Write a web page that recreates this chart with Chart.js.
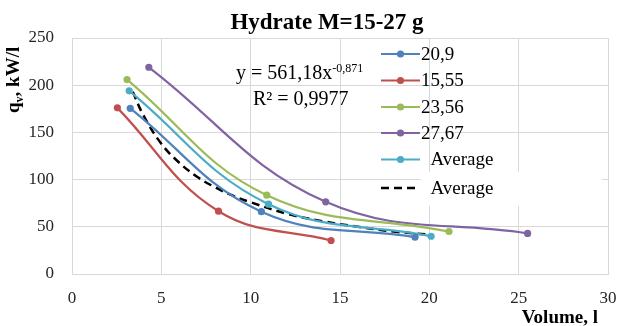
<!DOCTYPE html>
<html>
<head>
<meta charset="utf-8">
<script src="https://cdn.jsdelivr.net/npm/chart.js@4/dist/chart.umd.min.js"></script>
<style>
  html, body { margin: 0; padding: 0; background: #fff; }
  #wrap { width: 617px; height: 326px; }
</style>
</head>
<body>
<div id="wrap"><canvas id="chart" width="617" height="326"></canvas></div>
<script>
// --- Data: volume (l) vs specific power q_v (kW/l) per hydrate mass ---
const seriesNames = ['20,9', '15,55', '23,56', '27,67', '  Average'];
const trendName = '  Average';

const vol209 = [3.26, 10.6, 19.2];
const q209 = [175.5, 66, 39];
const vol1555 = [2.54, 8.2, 14.5];
const q1555 = [176, 66.5, 35.5];
const vol2356 = [3.08, 10.9, 21.1];
const q2356 = [206, 83.5, 45];
const vol2767 = [4.3, 14.2, 25.5];
const q2767 = [219, 76.5, 43];
const volAvg = [3.2, 11.0, 20.1];
const qAvg = [194, 74, 40];

// power trend line
const volTrend = [3.4, 4, 5, 6, 7, 8, 9, 10, 12, 14, 16, 18, 19.8];
const qTrend = [193, 168, 138, 118, 103, 92, 83, 76, 64, 56, 50, 45, 42];

const xTicks = [0, 5, 10, 15, 20, 25, 30];
const yTicks = [0, 50, 100, 150, 200, 250];

const colors = ['#4f81bd', '#c0504d', '#9bbb59', '#8064a2', '#4bacc6'];

const SERIF = "'Liberation Serif', 'Times New Roman', serif";

function pts(xs, ys) {
    return xs.map((x, i) => ({ x: x, y: ys[i] }));
}

const seriesData = [
    pts(vol209, q209),
    pts(vol1555, q1555),
    pts(vol2356, q2356),
    pts(vol2767, q2767),
    pts(volAvg, qAvg)
];

const datasets = seriesData.map((d, i) => ({
    label: seriesNames[i],
    data: d,
    borderColor: colors[i],
    backgroundColor: colors[i],
    borderWidth: 2.2,
    pointRadius: 3.6,
    pointBorderWidth: 0,
    pointBackgroundColor: colors[i],
    tension: 0.4
}));

datasets.push({
    label: trendName,
    data: pts(volTrend, qTrend),
    borderColor: '#000',
    borderWidth: 2.5,
    borderDash: [8, 5],
    pointRadius: 0,
    tension: 0.4
});

// --- Texts drawn on top: title, axis titles, equation, legend ---
const overlay = {
    id: 'overlay',
    afterDraw(chart) {
        const ctx = chart.ctx;
        ctx.save();
        ctx.fillStyle = '#000';
        ctx.textBaseline = 'alphabetic';

        // title
        ctx.font = 'bold 23px ' + SERIF;
        ctx.textAlign = 'center';
        ctx.fillText('Hydrate M=15-27 g', 327, 28.5);

        // x axis title
        ctx.font = 'bold 19px ' + SERIF;
        ctx.textAlign = 'right';
        ctx.fillText('Volume, l', 598, 323);

        // y axis title (rotated, with subscript v)
        ctx.save();
        ctx.translate(19, 113);
        ctx.rotate(-Math.PI / 2);
        ctx.textAlign = 'left';
        ctx.font = 'bold 19px ' + SERIF;
        ctx.fillText('q', 0, 0);
        let w = ctx.measureText('q').width;
        ctx.font = 'bold 12px ' + SERIF;
        ctx.fillText('v', w, 4);
        w += ctx.measureText('v').width;
        ctx.font = 'bold 19px ' + SERIF;
        ctx.fillText(', kW/l', w, 0);
        ctx.restore();

        // trend equation
        ctx.textAlign = 'left';
        ctx.font = '20px ' + SERIF;
        const eq = 'y = 561,18x';
        ctx.fillText(eq, 236, 79);
        const ew = ctx.measureText(eq).width;
        ctx.font = '12px ' + SERIF;
        ctx.fillText('-0,871', 236 + ew, 71.5);
        ctx.font = '20px ' + SERIF;
        ctx.fillText('R\u00b2 = 0,9977', 253, 105);

        // legend
        const rowY = [54, 80.5, 107, 133, 159.5, 188];
        ctx.fillStyle = '#fff';
        ctx.fillRect(421, 172, 181, 34);
        ctx.font = '19px ' + SERIF;
        ctx.textBaseline = 'middle';
        datasets.forEach((ds, i) => {
            const y = rowY[i];
            ctx.strokeStyle = ds.borderColor;
            ctx.lineWidth = ds.borderWidth;
            ctx.setLineDash(ds.borderDash || []);
            ctx.beginPath();
            ctx.moveTo(381, y);
            ctx.lineTo(420, y);
            ctx.stroke();
            if (ds.pointRadius > 0) {
                ctx.fillStyle = ds.borderColor;
                ctx.beginPath();
                ctx.arc(400.5, y, 3.6, 0, Math.PI * 2);
                ctx.fill();
            }
            ctx.fillStyle = '#000';
            ctx.fillText(ds.label, 421, y + 1);
        });
        ctx.restore();
    }
};

// keep the plot box fixed: no extra room for overhanging tick labels
function fixPadding(scale) {
    scale.paddingLeft = 0;
    scale.paddingRight = 0;
    scale.paddingTop = 0;
    scale.paddingBottom = 0;
}

new Chart(document.getElementById('chart'), {
    type: 'line',
    data: { datasets: datasets },
    plugins: [overlay],
    options: {
        responsive: false,
        animation: false,
        layout: { padding: { top: 38, right: 9, left: 0, bottom: 0 } },
        plugins: {
            legend: { display: false },
            title: { display: false },
            tooltip: { enabled: false }
        },
        scales: {
            x: {
                type: 'linear',
                min: 0,
                max: 30,
                afterBuildTicks: (scale) => { scale.ticks = xTicks.map(v => ({ value: v })); },
                afterFit: (scale) => { scale.height = 52; fixPadding(scale); },
                ticks: {
                    padding: 14,
                    color: '#262626',
                    font: { family: SERIF, size: 17 }
                },
                grid: { color: '#d9d9d9', lineWidth: 1, drawTicks: false },
                border: { color: '#d9d9d9' }
            },
            y: {
                min: 0,
                max: 250,
                afterBuildTicks: (scale) => { scale.ticks = yTicks.map(v => ({ value: v })); },
                afterFit: (scale) => { scale.width = 72; fixPadding(scale); },
                ticks: {
                    padding: 18,
                    color: '#262626',
                    font: { family: SERIF, size: 17 }
                },
                grid: { color: '#d9d9d9', lineWidth: 1, drawTicks: false },
                border: { color: '#d9d9d9' }
            }
        }
    }
});
</script>
</body>
</html>
